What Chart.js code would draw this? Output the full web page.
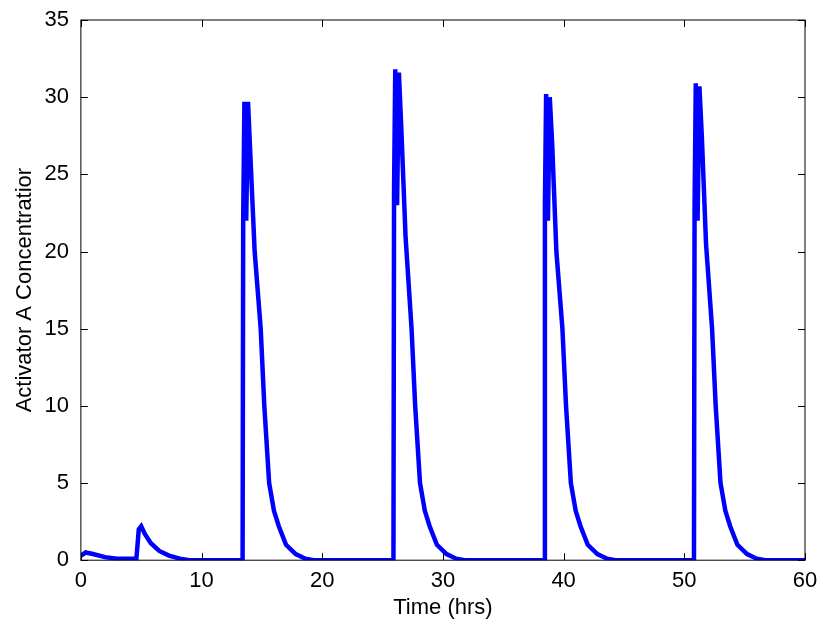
<!DOCTYPE html>
<html>
<head>
<meta charset="utf-8">
<script src="https://cdn.jsdelivr.net/npm/chart.js@4"></script>
<style>
  html, body { margin: 0; padding: 0; background: #fff; }
</style>
</head>
<body>
<canvas id="c" width="825" height="631"></canvas>
<script>
// time (hrs) and concentration
const timeHrs = [
  0, 0.4, 1, 2, 3, 4.6, 4.8, 5.0, 5.3, 5.8, 6.5, 7.3, 8.2, 9, 13.4,
  13.45, 13.55, 13.7, 13.85, 14.0, 14.4, 14.9, 15.2, 15.6, 16.0, 16.4, 17.0, 17.8, 18.6, 19.3, 25.9,
  25.95, 26.05, 26.2, 26.35, 26.55, 26.9, 27.4, 27.7, 28.1, 28.5, 28.9, 29.5, 30.3, 31.1, 31.8, 38.4,
  38.45, 38.55, 38.7, 38.85, 39.05, 39.4, 39.9, 40.2, 40.6, 41.0, 41.4, 42.0, 42.8, 43.6, 44.3, 50.8,
  50.85, 50.95, 51.1, 51.25, 51.45, 51.8, 52.3, 52.6, 53.0, 53.4, 53.8, 54.4, 55.2, 56.0, 56.7, 60
]
const concA = [
  0.3, 0.5, 0.4, 0.2, 0.1, 0.1, 2.0, 2.2, 1.7, 1.1, 0.6, 0.3, 0.1, 0, 0,
  22, 29.7, 22, 29.7, 27, 20, 15, 10, 5, 3.2, 2.2, 1, 0.4, 0.1, 0, 0,
  24, 31.8, 23, 31.6, 28, 21, 15, 10, 5, 3.2, 2.2, 1, 0.4, 0.1, 0, 0,
  23, 30.2, 22, 30.0, 27, 20, 15, 10, 5, 3.2, 2.2, 1, 0.4, 0.1, 0, 0,
  23, 30.9, 22, 30.7, 27.5, 20.5, 15, 10, 5, 3.2, 2.2, 1, 0.4, 0.1, 0, 0
]
const xTicks = [0, 10, 20, 30, 40, 50, 60]
const yTicks = [0, 5, 10, 15, 20, 25, 30, 35]

const FONT = { family: 'Liberation Sans, Arial, sans-serif', size: 22 }

// MATLAB-style box with inward ticks
const boxPlugin = {
  id: 'box',
  afterDraw(chart) {
    const { ctx, chartArea: a, scales: { x, y } } = chart
    ctx.save()
    ctx.strokeStyle = '#000'
    ctx.lineWidth = 1
    ctx.strokeRect(a.left, a.top, a.right - a.left, a.bottom - a.top)
    ctx.beginPath()
    xTicks.forEach(v => {
      const px = Math.round(x.getPixelForValue(v)) + 0.5
      ctx.moveTo(px, a.bottom); ctx.lineTo(px, a.bottom - 7)
      ctx.moveTo(px, a.top); ctx.lineTo(px, a.top + 7)
    })
    yTicks.forEach(v => {
      const py = Math.round(y.getPixelForValue(v)) + 0.5
      ctx.moveTo(a.left, py); ctx.lineTo(a.left + 7, py)
      ctx.moveTo(a.right, py); ctx.lineTo(a.right - 7, py)
    })
    ctx.stroke()
    ctx.restore()
  }
}

new Chart(document.getElementById('c'), {
  type: 'scatter',
  data: {
    datasets: [{
      data: timeHrs.map((t, i) => ({ x: t, y: concA[i] })),
      showLine: true,
      borderColor: '#0000FF',
      borderWidth: 4.5,
      pointRadius: 0,
      tension: 0
    }]
  },
  options: {
    responsive: false,
    animation: false,
    layout: { padding: { top: 20, right: 20, left: 10, bottom: 10 } },
    plugins: { legend: { display: false }, tooltip: { enabled: false } },
    scales: {
      x: {
        type: 'linear', min: 0, max: 60,
        afterBuildTicks: s => { s.ticks = xTicks.map(v => ({ value: v })) },
        grid: { display: false },
        border: { display: false },
        ticks: { color: '#000', font: FONT, padding: 0, maxRotation: 0, autoSkip: false },
        title: { display: true, text: 'Time (hrs)', color: '#000', font: FONT, padding: 0 }
      },
      y: {
        type: 'linear', min: 0, max: 35,
        afterBuildTicks: s => { s.ticks = yTicks.map(v => ({ value: v })) },
        grid: { display: false },
        border: { display: false },
        ticks: { color: '#000', font: FONT, padding: 4, autoSkip: false },
        title: { display: true, text: 'Activator A Concentratior', color: '#000', font: FONT, padding: 2 }
      }
    }
  },
  plugins: [boxPlugin]
})
</script>
</body>
</html>
